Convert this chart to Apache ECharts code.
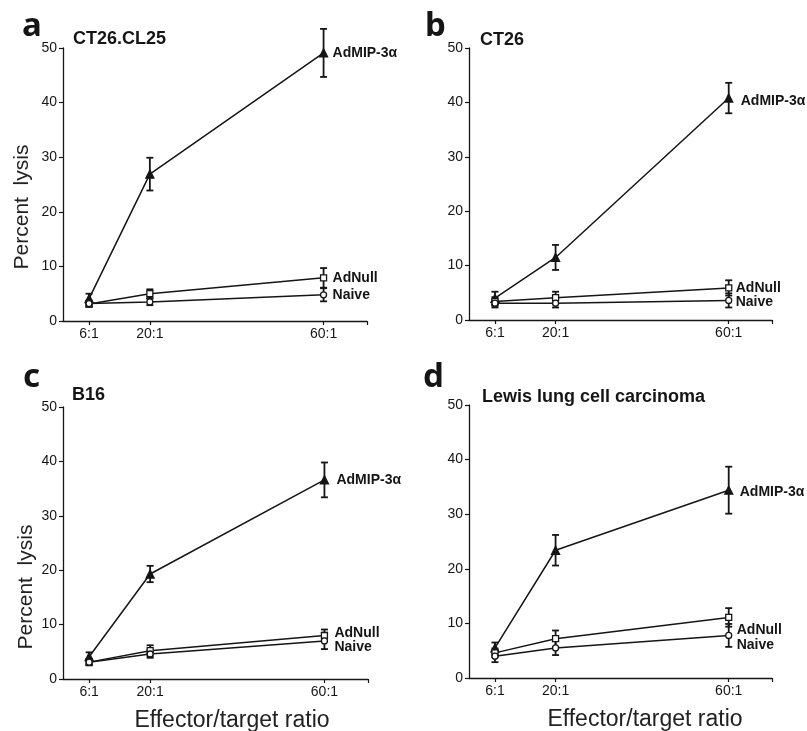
<!DOCTYPE html>
<html>
<head>
<meta charset="utf-8">
<script src="https://cdn.jsdelivr.net/npm/echarts@6/dist/echarts.min.js"></script>
<style>
html,body{margin:0;padding:0;background:#fff;}
#chart{width:807px;height:731px;}
</style>
</head>
<body>
<div id="chart"></div>
<script>
// ---------- DATA ----------
const ratios = [6, 20, 60];
const ratioLabels = ['6:1', '20:1', '60:1'];
const seriesNames = ['AdMIP-3α', 'AdNull', 'Naive'];
const panelLetters = ['a', 'b', 'c', 'd'];
const panelTitles = ['CT26.CL25', 'CT26', 'B16', 'Lewis lung cell carcinoma'];
const yTicks = [0, 10, 20, 30, 40, 50];

// panel a: CT26.CL25
const a_admip = [4.1, 26.9, 49.1];   const a_admip_err = [0.9, 3.0, 4.4];
const a_adnull = [3.1, 5.0, 7.9];    const a_adnull_err = [0.5, 0.8, 1.8];
const a_naive = [3.2, 3.5, 4.8];     const a_naive_err = [0.5, 0.6, 1.2];
// panel b: CT26
const b_admip = [4.0, 11.5, 40.8];   const b_admip_err = [1.2, 2.3, 2.8];
const b_adnull = [3.4, 4.1, 5.9];    const b_adnull_err = [0.8, 1.1, 1.4];
const b_naive = [3.1, 3.1, 3.6];     const b_naive_err = [0.8, 0.8, 1.3];
// panel c: B16
const c_admip = [4.1, 19.3, 36.6];   const c_admip_err = [0.8, 1.5, 3.2];
const c_adnull = [3.1, 5.2, 8.0];    const c_adnull_err = [0.6, 1.0, 1.1];
const c_naive = [3.1, 4.6, 7.0];     const c_naive_err = [0.5, 0.7, 1.5];
// panel d: Lewis lung cell carcinoma
const d_admip = [5.5, 23.4, 34.4];   const d_admip_err = [1.0, 2.8, 4.3];
const d_adnull = [4.6, 7.2, 11.1];   const d_adnull_err = [0.8, 1.5, 1.7];
const d_naive = [4.0, 5.5, 7.8];     const d_naive_err = [1.1, 1.3, 2.1];

const panelData = [
  [[a_admip, a_admip_err], [a_adnull, a_adnull_err], [a_naive, a_naive_err]],
  [[b_admip, b_admip_err], [b_adnull, b_adnull_err], [b_naive, b_naive_err]],
  [[c_admip, c_admip_err], [c_adnull, c_adnull_err], [c_naive, c_naive_err]],
  [[d_admip, d_admip_err], [d_adnull, d_adnull_err], [d_naive, d_naive_err]]
];

// ---------- STYLE / LAYOUT ----------
const INK = '#151515';
const grids = [
  {left: 63, top: 48, width: 304, height: 273},
  {left: 469, top: 48, width: 303, height: 272},
  {left: 63, top: 407, width: 305, height: 272},
  {left: 469, top: 405, width: 303, height: 273}
];
const markerStyles = [
  {symbol: 'triangle', symbolSize: 8, fill: INK},
  {symbol: 'rect', symbolSize: 6, fill: '#fff'},
  {symbol: 'circle', symbolSize: 6, fill: '#fff'}
];
// end-label placement per panel, per series: [distance, dy]
const labelPlace = [
  [[9, 0], [9, 0], [9, 0]],
  [[12, 3], [7, 0], [7, 2]],
  [[12, 0], [10, -2], [10, 6]],
  [[11, 2], [8, 13], [8, 10]]
];
const letterPos = [[22, 27], [425, 27], [23, 378], [423, 378]];
const titlePos = [[73, 39], [480, 40], [72, 395], [482, 397]];

const option = {
  backgroundColor: '#fff',
  animation: false,
  grid: grids.map(g => Object.assign({outerBoundsMode: 'none', containLabel: false}, g)),
  xAxis: grids.map((g, i) => ({
    type: 'value', gridIndex: i, min: 0, max: 70,
    axisLine: {show: true, lineStyle: {color: INK, width: 1.3}},
    axisTick: {show: true, length: 4, customValues: [6, 20, 60, 70], lineStyle: {color: INK, width: 1.2}},
    axisLabel: {
      show: true, customValues: ratios, margin: 6,
      formatter: v => ratioLabels[ratios.indexOf(v)] || '',
      color: INK, fontFamily: 'Liberation Sans, Arial, sans-serif', fontSize: 14
    },
    splitLine: {show: false}
  })),
  yAxis: grids.map((g, i) => ({
    type: 'value', gridIndex: i, min: 0, max: 50, interval: 10,
    axisLine: {show: true, lineStyle: {color: INK, width: 1.3}},
    axisTick: {show: true, length: 4, lineStyle: {color: INK, width: 1.2}},
    axisLabel: {color: INK, fontFamily: 'Liberation Sans, Arial, sans-serif', fontSize: 14, margin: 6},
    splitLine: {show: false}
  })),
  series: [],
  graphic: []
};

panelData.forEach((panel, pi) => {
  panel.forEach((pair, si) => {
    const vals = pair[0], errs = pair[1];
    // error bars
    option.series.push({
      type: 'custom', xAxisIndex: pi, yAxisIndex: pi, z: 2, silent: true,
      encode: {x: 0, y: [1, 2]},
      data: ratios.map((r, k) => [r, vals[k] - errs[k], vals[k] + errs[k]]),
      renderItem: function (params, api) {
        const lo = api.coord([api.value(0), api.value(1)]);
        const hi = api.coord([api.value(0), api.value(2)]);
        const w = 3.5;
        const st = {stroke: INK, lineWidth: 1.8};
        return {type: 'group', children: [
          {type: 'line', shape: {x1: lo[0], y1: lo[1], x2: hi[0], y2: hi[1]}, style: st},
          {type: 'line', shape: {x1: lo[0] - w, y1: lo[1], x2: lo[0] + w, y2: lo[1]}, style: st},
          {type: 'line', shape: {x1: hi[0] - w, y1: hi[1], x2: hi[0] + w, y2: hi[1]}, style: st}
        ]};
      }
    });
    const ms = markerStyles[si];
    const lp = labelPlace[pi][si];
    option.series.push({
      type: 'line', name: seriesNames[si], xAxisIndex: pi, yAxisIndex: pi, z: 3,
      data: ratios.map((r, k) => [r, vals[k]]),
      symbol: ms.symbol, symbolSize: ms.symbolSize, showSymbol: true,
      lineStyle: {color: INK, width: 1.5},
      itemStyle: {color: ms.fill, borderColor: INK, borderWidth: 1.3},
      endLabel: {
        show: true, formatter: seriesNames[si], distance: lp[0], offset: [0, lp[1]],
        color: INK, fontFamily: 'Liberation Sans, Arial, sans-serif', fontSize: 14, fontWeight: 'bold'
      }
    });
  });
  option.graphic.push({
    type: 'text', x: letterPos[pi][0], y: letterPos[pi][1],
    style: {text: panelLetters[pi], fill: INK, font: 'bold 33px "Noto Sans", sans-serif', verticalAlign: 'middle', align: 'left'}
  });
  option.graphic.push({
    type: 'text', x: titlePos[pi][0], y: titlePos[pi][1],
    style: {text: panelTitles[pi], fill: INK, font: 'bold 18px "Liberation Sans", Arial, sans-serif', verticalAlign: 'middle', align: 'left'}
  });
});

// axis titles
[[22, 207], [26, 587]].forEach(p => {
  option.graphic.push({
    type: 'text', x: p[0], y: p[1], rotation: Math.PI / 2,
    style: {text: 'Percent  lysis', fill: '#222', font: '21px "Liberation Sans", Arial, sans-serif', align: 'center', verticalAlign: 'middle'}
  });
});
[[232, 721], [645, 720]].forEach(p => {
  option.graphic.push({
    type: 'text', x: p[0], y: p[1],
    style: {text: 'Effector/target ratio', fill: '#222', font: '23px "Liberation Sans", Arial, sans-serif', align: 'center', verticalAlign: 'middle'}
  });
});

const chart = echarts.init(document.getElementById('chart'), null, {renderer: 'canvas'});
chart.setOption(option);
</script>
</body>
</html>
